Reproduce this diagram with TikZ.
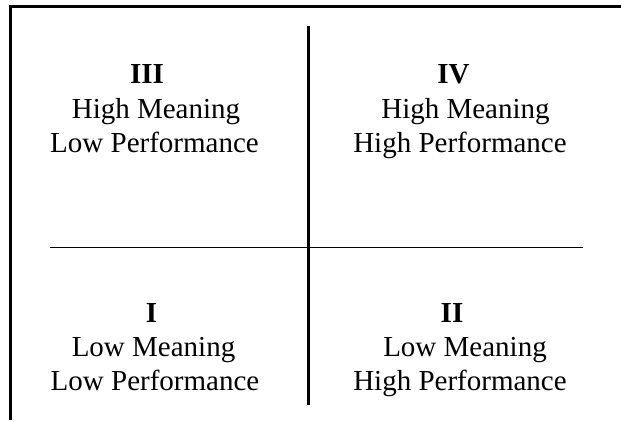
\documentclass[tikz,border=0pt]{standalone}
\usepackage{fontspec}
\setmainfont{Liberation Serif}
\begin{document}
\begin{tikzpicture}[x=1pt,y=-1pt,
  lbl/.style={anchor=base,inner sep=0pt,font=\fontsize{29}{34}\selectfont},
  num/.style={lbl,font=\fontsize{29}{34}\selectfont\bfseries},
  thick3/.style={line width=3pt},
  thin1/.style={line width=1pt}]
\useasboundingbox (0,0) rectangle (621,421);
% frame
\coordinate (tl) at (10,6);
\coordinate (tr) at (621,6);
\coordinate (bl) at (10,420);
\draw[thick3] (tr) -- (8.5,6);
\draw[thick3] (10,4.5) -- (bl);
% axes
\coordinate (vt) at (308,26);
\coordinate (vb) at (308,405);
\coordinate (hl) at (50,247);
\coordinate (hr) at (583,247);
\draw[thick3] (vt) -- (vb);
\draw[thin1] (hl) -- (hr);
% quadrant III
\node[num] (n3) at (147,83) {III};
\node[lbl] (a3) at (156,118) {High Meaning};
\node[lbl] (b3) at (154.5,152) {Low Performance};
% quadrant IV
\node[num] (n4) at (453.5,83) {IV};
\node[lbl] (a4) at (465.5,118) {High Meaning};
\node[lbl] (b4) at (460,152) {High Performance};
% quadrant I
\node[num] (n1) at (151.5,322) {I};
\node[lbl] (a1) at (153.5,356) {Low Meaning};
\node[lbl] (b1) at (155,390) {Low Performance};
% quadrant II
\node[num] (n2) at (452,322) {II};
\node[lbl] (a2) at (465,356) {Low Meaning};
\node[lbl] (b2) at (460,390) {High Performance};
\end{tikzpicture}
\end{document}
